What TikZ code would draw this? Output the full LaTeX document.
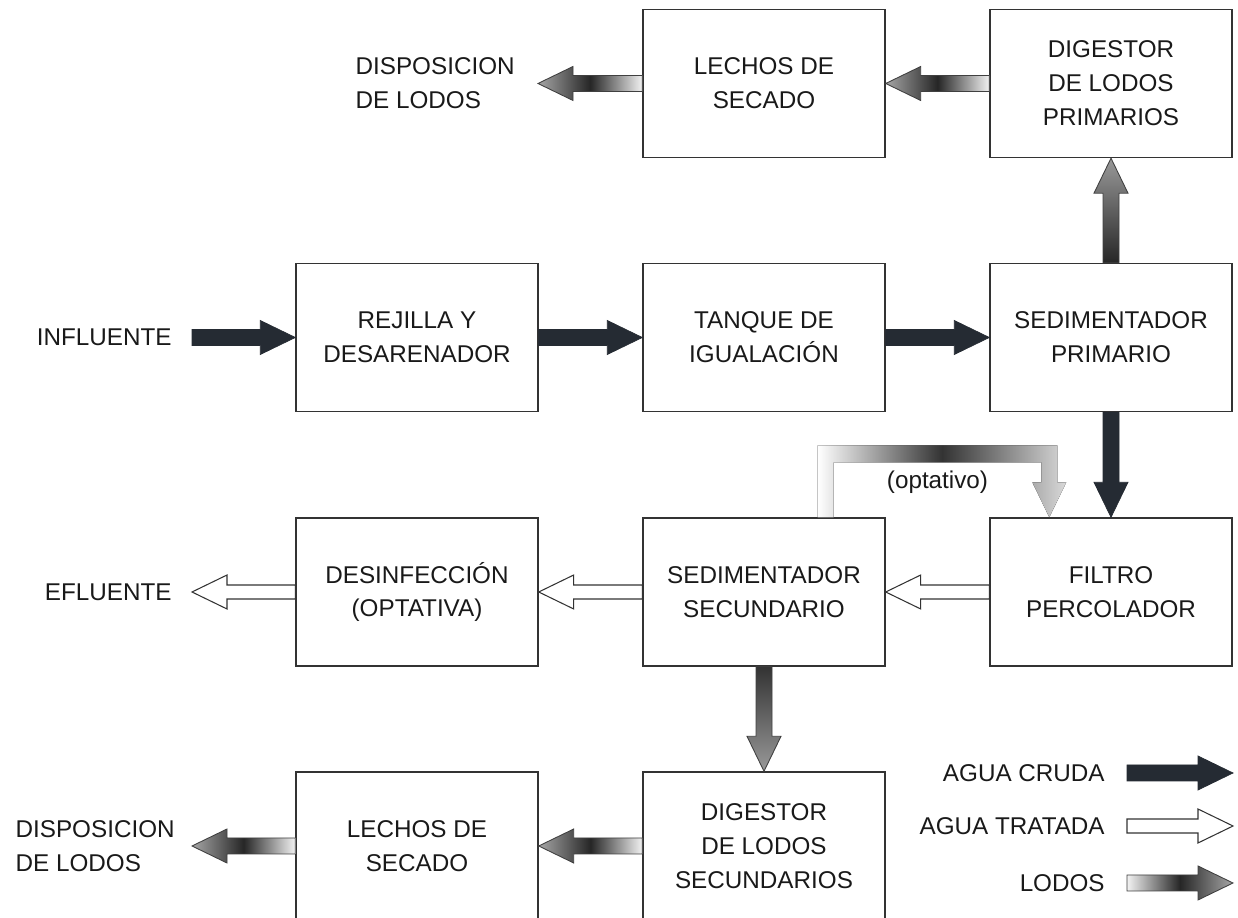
\documentclass[tikz,border=0pt]{standalone}
\usepackage{fontspec}
\setmainfont{Liberation Sans}
\usetikzlibrary{calc}
\definecolor{cruda}{HTML}{252B33}
\tikzset{
  figbox/.style={draw=black!80, line width=0.8pt, align=center, text=black!90,
    minimum width=4.84cm, minimum height=2.96cm, inner sep=2pt,
    font=\fontsize{13.8}{19.3}\selectfont},
  figlabel/.style={align=left, text=black!90, inner sep=0pt,
    font=\fontsize{13.8}{19.3}\selectfont},
  figcruda/.style={fill=cruda, draw=cruda, line width=0.4pt},
  figtratada/.style={fill=white, draw=black!80, line width=0.6pt},
  figlodos/.style={draw=black!75, line width=0.5pt},
}
% fat arrow: [style]{from}{to}{half shaft width}
\newcommand{\flecha}[4][]{%
  \coordinate (fa) at #2;
  \coordinate (fb) at #3;
  \coordinate (fh) at ($(fb)!0.7cm!(fa)$);
  \path[#1] ($(fa)!#4!90:(fb)$) -- ($(fh)!#4!-90:(fa)$) -- ($(fh)!0.34cm!-90:(fa)$)
    -- (fb) -- ($(fh)!0.34cm!90:(fa)$) -- ($(fh)!#4!90:(fa)$) -- ($(fa)!#4!-90:(fb)$) -- cycle;
}

\begin{document}
\begin{tikzpicture}
  \useasboundingbox (0,0) rectangle (24.76,18.36);
  \clip (0,0) rectangle (24.76,18.36);
  % boxes
  \node[figbox] (lechos1) at (15.28,16.69) {LECHOS DE\\SECADO};
  \node[figbox] (digprim) at (22.22,16.69) {DIGESTOR\\DE LODOS\\PRIMARIOS};
  \node[figbox] (rejilla) at (8.34,11.61) {REJILLA Y\\DESARENADOR};
  \node[figbox] (tanque) at (15.28,11.61) {TANQUE DE\\IGUALACIÓN};
  \node[figbox] (sedprim) at (22.22,11.61) {SEDIMENTADOR\\PRIMARIO};
  \node[figbox] (desinf) at (8.34,6.52) {DESINFECCIÓN\\(OPTATIVA)};
  \node[figbox] (sedsec) at (15.28,6.52) {SEDIMENTADOR\\SECUNDARIO};
  \node[figbox] (filtro) at (22.22,6.52) {FILTRO\\PERCOLADOR};
  \node[figbox] (lechos2) at (8.34,1.44) {LECHOS DE\\SECADO};
  \node[figbox] (digsec) at (15.28,1.44) {DIGESTOR\\DE LODOS\\SECUNDARIOS};
  % labels
  \node[figlabel, anchor=east] (influ) at (3.44,11.61) {INFLUENTE};
  \node[figlabel, anchor=east] (eflu) at (3.44,6.52) {EFLUENTE};
  \node[figlabel, anchor=east] (disp1) at (10.3,16.69) {DISPOSICION\\DE LODOS};
  \node[figlabel, anchor=east] (disp2) at (3.5,1.44) {DISPOSICION\\DE LODOS};
  % agua cruda
  \flecha[figcruda]{($(influ.east)+(0.4,0)$)}{(rejilla.west)}{0.16cm}
  \flecha[figcruda]{(rejilla.east)}{(tanque.west)}{0.16cm}
  \flecha[figcruda]{(tanque.east)}{(sedprim.west)}{0.16cm}
  \flecha[figcruda]{(sedprim.south)}{(filtro.north)}{0.16cm}
  % agua tratada
  \flecha[figtratada]{(filtro.west)}{(sedsec.east)}{0.14cm}
  \flecha[figtratada]{(sedsec.west)}{(desinf.east)}{0.14cm}
  \flecha[figtratada]{(desinf.west)}{($(eflu.east)+(0.4,0)$)}{0.14cm}
  % lodos
  \flecha[figlodos, bottom color=black!85, top color=black!40]{(sedprim.north)}{(digprim.south)}{0.16cm}
  \flecha[figlodos, left color=black!35, right color=black!5, middle color=black!85]{(digprim.west)}{(lechos1.east)}{0.16cm}
  \flecha[figlodos, left color=black!35, right color=black!5, middle color=black!85]{(lechos1.west)}{($(disp1.east)+(0.46,0)$)}{0.16cm}
  \flecha[figlodos, top color=black!80, bottom color=black!40]{(sedsec.south)}{(digsec.north)}{0.16cm}
  \flecha[figlodos, left color=black!35, right color=black!5, middle color=black!85]{(digsec.west)}{(lechos2.east)}{0.16cm}
  \flecha[figlodos, left color=black!35, right color=black!5, middle color=black!85]{(lechos2.west)}{($(disp2.east)+(0.34,0)$)}{0.16cm}
  % optativo
  \coordinate (optA) at ($(sedsec.north east)+(-1.2,0)$);
  \coordinate (optB) at ($(filtro.north west)+(1.2,0)$);
  \fill[left color=white, right color=black!15, middle color=black!80]
    ($(optA)+(-0.16,0)$) -- ($(optA)+(-0.16,1.44)$) -- ($(optB)+(0.16,1.44)$)
    -- ($(optB)+(0.16,0.7)$) -- ($(optB)+(0.34,0.7)$) -- (optB) -- ($(optB)+(-0.34,0.7)$)
    -- ($(optB)+(-0.16,0.7)$) -- ($(optB)+(-0.16,1.1)$) -- ($(optA)+(0.16,1.1)$)
    -- ($(optA)+(0.16,0)$) -- cycle;
  \node[figlabel] (opt) at ($(optA)!0.5!(optB)+(0,0.7)$) {(optativo)};
  % leyenda
  \node[figlabel, anchor=east] (leg1) at (22.1,2.9) {AGUA CRUDA};
  \node[figlabel, anchor=east] (leg2) at (22.1,1.84) {AGUA TRATADA};
  \node[figlabel, anchor=east] (leg3) at (22.1,0.7) {LODOS};
  \flecha[figcruda]{($(leg1.east)+(0.44,0)$)}{($(leg1.east)+(2.56,0)$)}{0.16cm}
  \flecha[figtratada]{($(leg2.east)+(0.44,0)$)}{($(leg2.east)+(2.56,0)$)}{0.14cm}
  \flecha[figlodos, left color=black!5, right color=black!35, middle color=black!85]{($(leg3.east)+(0.44,0)$)}{($(leg3.east)+(2.56,0)$)}{0.16cm}
\end{tikzpicture}
\end{document}
